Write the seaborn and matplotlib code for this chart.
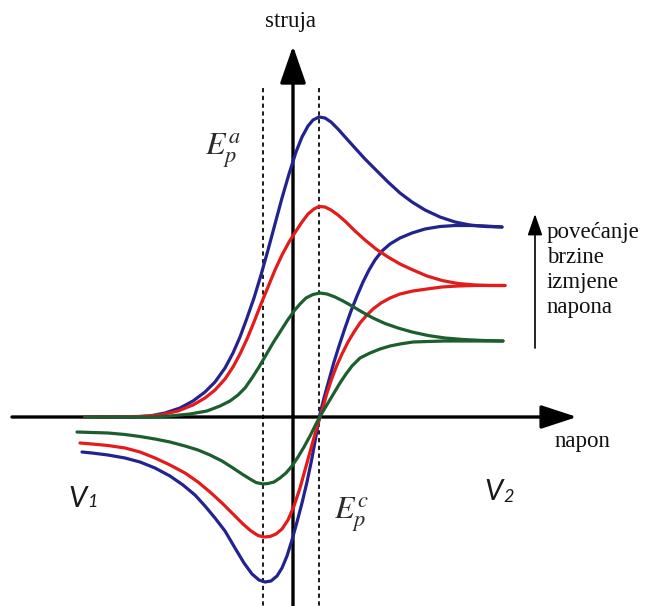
import matplotlib
matplotlib.use('Agg')
import matplotlib.pyplot as plt
import seaborn as sns
import pandas as pd

# schematic cyclic voltammogram, coordinates (pixel units, y downward)
blue_fwd_x = [85, 130, 150, 165, 180, 193, 205, 215, 225, 233, 240, 247, 254, 261, 268, 275, 282, 289, 296,
              302, 308, 313, 319, 325, 331, 338, 346, 355, 365, 376, 388, 400, 412, 425, 440, 455, 470, 485, 502]
blue_fwd_y = [417, 417, 416, 413, 408, 401, 392, 382, 368, 353, 337, 318, 298, 275, 250, 224, 198, 174, 152,
              137, 126, 120, 117, 118, 122, 129, 138, 148, 159, 170, 182, 193, 202, 210, 217, 222, 225, 226.5, 227]
blue_rev_x = [502, 485, 470, 455, 440, 425, 412, 400, 390, 382, 375, 369, 363, 357, 351, 345, 339, 334, 329,
              324, 320, 316, 312, 307, 302, 297, 292, 287, 282, 277, 271, 265, 259, 252, 244, 235, 225, 215,
              205, 195, 183, 170, 155, 140, 125, 108, 92, 82]
blue_rev_y = [227, 226, 225.5, 225.5, 226.5, 229, 233, 238, 244, 251, 260, 270, 282, 296, 311, 328, 346, 362,
              380, 398, 414, 436, 458, 482, 503, 522, 540, 556, 568, 576, 581, 582, 580, 574, 563, 548, 531,
              518, 506, 495, 485, 476, 468, 462, 458, 455, 453, 452]

red_fwd_x = [85, 140, 160, 178, 193, 205, 215, 225, 233, 240, 247, 254, 261, 268, 275, 282, 289, 296, 302,
             308, 314, 319, 325, 331, 338, 346, 355, 365, 376, 388, 400, 413, 427, 442, 458, 475, 490, 505]
red_fwd_y = [417, 416.5, 415, 411, 405, 398, 390, 379, 367, 354, 339, 322, 304, 287, 270, 255, 242, 231, 222,
             214, 209, 206.5, 207, 210, 215, 222, 231, 240, 249, 257, 264, 270, 276, 280.5, 283.5, 285, 285.5,
             285.5]
red_rev_x = [505, 490, 475, 458, 442, 427, 413, 400, 390, 381, 373, 366, 360, 354, 348, 342, 337, 332, 327,
             323, 319, 315, 310, 305, 300, 294, 288, 282, 276, 270, 264, 258, 251, 243, 233, 222, 210, 198,
             185, 170, 155, 140, 125, 108, 92, 80]
red_rev_y = [285.5, 285.5, 285.5, 286, 287, 289, 291, 294, 298, 303, 309, 316, 323, 332, 342, 354, 365, 378,
             393, 407, 420, 434, 452, 470, 488, 506, 520, 529, 534, 536.5, 537, 535.5, 531, 524, 514, 503,
             492, 482, 473, 465, 458, 452, 448, 445.5, 444, 443]

green_fwd_x = [85, 150, 170, 190, 207, 220, 230, 238, 245, 252, 259, 266, 273, 280, 287, 294, 300, 306, 313,
               320, 327, 335, 343, 352, 362, 373, 385, 398, 412, 428, 445, 463, 483, 503]
green_fwd_y = [417, 417, 416, 414, 411, 406, 401, 395, 388, 378, 367, 355, 343, 332, 321, 311, 304, 298,
               294.5, 293, 294, 297, 301, 306, 312, 318, 323.5, 328, 332, 335.5, 338, 339.5, 340.5, 341]
green_rev_x = [503, 483, 463, 445, 428, 413, 400, 390, 380, 370, 360, 352, 346, 340, 334, 328, 322, 316, 310,
               304, 298, 292, 286, 280, 274, 268, 263, 256, 250, 242, 233, 222, 210, 198, 185, 170, 155, 140,
               125, 108, 92, 77]
green_rev_y = [341, 341, 341, 341, 341.5, 342, 344, 346, 349, 353, 358, 366, 374, 383, 393, 403, 413, 424,
               436, 447, 457, 466, 473, 478, 482, 483.5, 484, 482.5, 479, 474, 468, 461, 455, 450, 446, 442,
               439, 436.5, 434.5, 433, 432.5, 432]

peak_a_x = 319
peak_c_x = 263

curves = [
    (blue_fwd_x, blue_fwd_y, '#22238e'), (blue_rev_x, blue_rev_y, '#22238e'),
    (red_fwd_x, red_fwd_y, '#e31b1b'), (red_rev_x, red_rev_y, '#e31b1b'),
    (green_fwd_x, green_fwd_y, '#1d5e2e'), (green_rev_x, green_rev_y, '#1d5e2e'),
]

sns.set_style('white')
plt.rcParams['font.family'] = 'serif'
plt.rcParams['font.serif'] = ['Liberation Serif', 'Times New Roman', 'DejaVu Serif']

fig = plt.figure(figsize=(6.45, 6.06), dpi=100)
ax = fig.add_axes([0, 0, 1, 1])

# dashed peak-potential lines
for xp in (peak_c_x, peak_a_x):
    ax.plot([xp, xp], [88, 606], color='#1a1a1a', lw=1.4, linestyle=(0, (2.2, 1.8)), zorder=1)

# axes with arrows
ax.annotate('', xy=(293, 46), xytext=(293, 606),
            arrowprops=dict(arrowstyle='-|>,head_length=2.3,head_width=0.8', lw=2.4, color='black',
                            shrinkA=0, shrinkB=0), zorder=2)
ax.annotate('', xy=(577, 417), xytext=(12, 417),
            arrowprops=dict(arrowstyle='-|>,head_length=2.2,head_width=0.72', lw=2.4, color='black',
                            shrinkA=0, shrinkB=0), zorder=2)

for cx, cy, col in curves:
    df = pd.DataFrame({'x': cx, 'y': cy})
    sns.lineplot(data=df, x='x', y='y', sort=False, estimator=None, color=col, lw=2.3, ax=ax,
                 solid_joinstyle='round', solid_capstyle='round', zorder=3)
ax.set_xlim(0, 645)
ax.set_ylim(606, 0)
ax.axis('off')

# scan-rate arrow
ax.annotate('', xy=(535, 214), xytext=(535, 348),
            arrowprops=dict(arrowstyle='-|>,head_length=1.3,head_width=0.45', lw=1.2, color='black',
                            shrinkA=0, shrinkB=0))

ax.text(290, 21, 'struja', fontsize=16.5, fontfamily='serif', ha='center', va='center', color='#111111')
ax.text(555, 441, 'napon', fontsize=16.5, fontfamily='serif', ha='left', va='center', color='#111111')
ax.text(547, 270, 'povećanje\nbrzine\nizmjene\nnapona', fontsize=16.5, fontfamily='serif', ha='left',
        va='center', linespacing=1.25, color='#111111')

ax.text(223, 151, r'$E_p^a$', fontsize=23, math_fontfamily='stix', ha='center', va='center', color='#2a2a2a')
ax.text(351, 515, r'$E_p^c$', fontsize=23, math_fontfamily='stix', ha='center', va='center', color='#2a2a2a')

ax.text(68, 507, 'V', fontsize=21, fontfamily='Lato', style='italic', ha='left', va='baseline', color='#1a1a1a')
ax.text(87, 507, '1', fontsize=13, fontfamily='Lato', style='italic', ha='left', va='baseline', color='#1a1a1a')
ax.text(484, 500, 'V', fontsize=21, fontfamily='Lato', style='italic', ha='left', va='baseline', color='#1a1a1a')
ax.text(503, 502, '2', fontsize=13, fontfamily='Lato', style='italic', ha='left', va='baseline', color='#1a1a1a')

fig.savefig('out.png', dpi=100)
